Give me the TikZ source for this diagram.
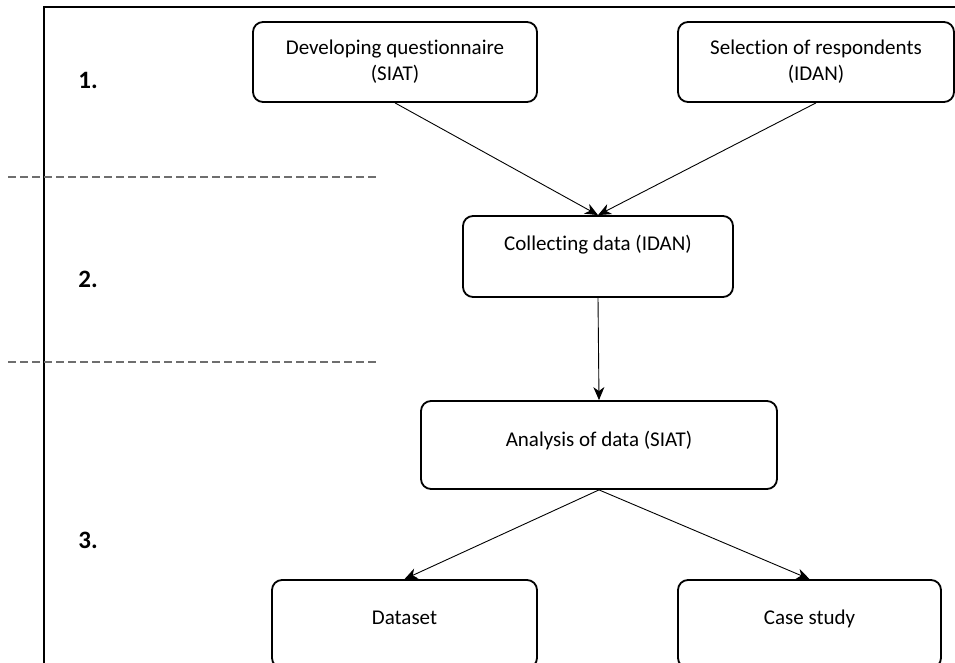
\documentclass[tikz,border=0pt]{standalone}
\usepackage{fontspec}
\setmainfont{Carlito}[Ligatures={NoCommon,NoRare,NoDiscretionary}]
\usetikzlibrary{arrows.meta}
\definecolor{sepgray}{RGB}{110,110,110}
\begin{document}
\begin{tikzpicture}[x=1pt,y=-1pt,
  box/.style={draw, line width=1.8pt, rounded corners=10pt, align=center,
    font=\fontsize{21}{26}\selectfont, inner sep=0pt},
  conn/.style={-{Stealth[length=13pt,width=11pt,inset=4pt]}, line width=0.9pt},
  phase/.style={font=\fontsize{25}{30}\selectfont\bfseries, inner sep=0pt},
  sepline/.style={dash pattern=on 8pt off 4pt, line width=1.3pt, color=sepgray},
  frame/.style={line width=2.2pt}]
\clip (0,0) rectangle (955,663);
% frame
\draw[frame] (44,663) -- (44,7) -- (955,7);
% separators
\coordinate (s1a) at (8,177);
\coordinate (s1b) at (378,177);
\coordinate (s2a) at (8,362);
\coordinate (s2b) at (378,362);
\draw[sepline] (s1a) -- (s1b);
\draw[sepline] (s2a) -- (s2b);
% phase labels
\node[phase] (p1) at (88,80) {1.};
\node[phase] (p2) at (88,279) {2.};
\node[phase] (p3) at (88,540) {3.};
% boxes
\node[box, minimum width=284pt, minimum height=80pt] (quest) at (395,62)
  {Developing questionnaire\\(SIAT)};
\node[box, minimum width=276pt, minimum height=80pt] (resp) at (816,62)
  {Selection of respondents\\(IDAN)};
\node[box, minimum width=270pt, minimum height=81pt, text height=15pt, text depth=28pt] (coll) at (598,256.5)
  {Collec\kern0pt ting data (IDAN)};
\node[box, minimum width=356pt, minimum height=88pt, text height=15pt, text depth=13pt] (anal) at (599,445)
  {Analysis of data (SIAT)};
\node[box, minimum width=265pt, minimum height=88pt, text height=15pt, text depth=15pt] (data) at (404.5,624)
  {Dataset};
\node[box, minimum width=263pt, minimum height=88pt, text height=15pt, text depth=15pt] (case) at (809.5,624)
  {Case study};
% connectors
\draw[conn] (quest.south) -- (coll.north);
\draw[conn] (resp.south) -- (coll.north);
\draw[conn] (coll.south) -- (anal.north);
\draw[conn] (anal.south) -- (data.north);
\draw[conn] (anal.south) -- (case.north);
\end{tikzpicture}
\end{document}
